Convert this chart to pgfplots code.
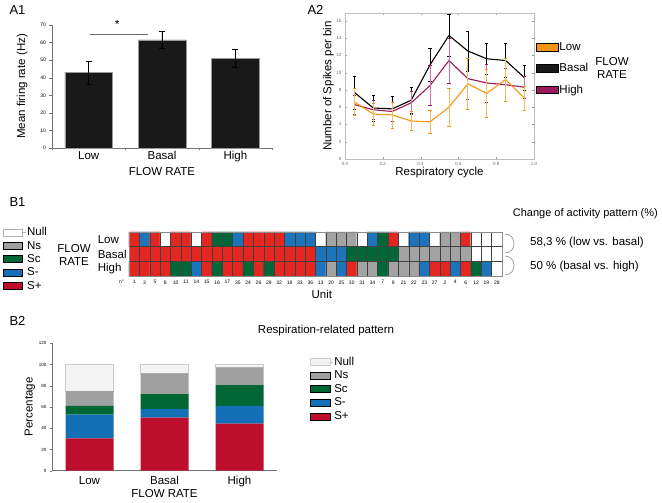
\documentclass[border=0pt]{standalone}
\usepackage{pgfplots}
\pgfplotsset{compat=1.18}
\usepackage{fontspec}
\setmainfont{Liberation Sans}
\pgfkeys{/pgf/number format/assume math mode=true}
\definecolor{bSp}{RGB}{190,14,45}
\definecolor{bSm}{RGB}{20,112,182}
\definecolor{bSc}{RGB}{0,102,51}
\definecolor{bNs}{RGB}{160,160,160}
\definecolor{bNull}{RGB}{243,243,243}
\definecolor{cOrange}{RGB}{243,150,20}
\definecolor{cMag}{RGB}{155,25,95}
\definecolor{cOrangeL}{RGB}{248,185,90}
\definecolor{cMagL}{RGB}{215,110,165}
\newcommand{\mf}{\fontsize{11.5}{13.8}\selectfont}
\newcommand{\tf}{\fontsize{5}{6}\selectfont}
\pgfplotsset{
  legA/.style={legend image code/.code={\fill[##1] (0pt,-3.8pt) rectangle (22pt,3.8pt);}},
  legB/.style={legend image code/.code={\path (0pt,0pt) -- (23pt,0pt);\draw[##1] (0pt,-3.5pt) rectangle (19pt,3.5pt);}},
  legC/.style={legend image code/.code={\path (0pt,0pt) -- (23pt,0pt);\draw[##1] (0pt,-3.5pt) rectangle (20pt,3.5pt);}},
}
\begin{document}
\begin{tikzpicture}[x=1pt,y=1pt]
\path[use as bounding box] (0pt,0pt) rectangle (662pt,503pt);
% panel labels
\node[anchor=west,font=\fontsize{13}{15}\selectfont] at (6pt,493pt) {A1};
\node[anchor=west,font=\fontsize{13}{15}\selectfont] at (304pt,493pt) {A2};
\node[anchor=west,font=\fontsize{13}{15}\selectfont] at (6pt,301pt) {B1};
\node[anchor=west,font=\fontsize{13}{15}\selectfont] at (6pt,182pt) {B2};

% ---------- A1 ----------
\begin{axis}[at={(52pt,355pt)}, anchor=south west, scale only axis, width=220pt, height=123pt,
  ybar, bar width=0.65, clip=false,
  axis lines=left, axis line style={-, black!55, line width=0.6pt},
  xmin=-0.5, xmax=2.5, ymin=0, ymax=70,
  ytick={0,10,...,70},
  xtick={-0.5,0.5,1.5,2.5}, xticklabels={},
  extra x ticks={0,1,2}, extra x tick labels={Low,Basal,High},
  extra x tick style={major tick length=0pt, tick label style={font=\mf}},
  tick align=outside, major tick length=2.5pt, tick style={black!55},
  yticklabel style={font=\tf},
  ylabel={Mean firing rate (Hz)}, ylabel style={font=\mf, at={(axis description cs:-0.136,0.5)}, anchor=center},
  xlabel={FLOW RATE}, xlabel style={font=\mf, at={(axis description cs:0.5,-0.19)}, anchor=center},
]
\addplot[fill=black!90, draw=black!40,
  error bars/.cd, y dir=both, y explicit,
  error bar style={black, line width=0.6pt},
  error mark options={rotate=90, mark size=3pt, black, line width=0.6pt}]
  coordinates {(0,43) +- (0,6.5) (1,61.5) +- (0,5) (2,51) +- (0,5)};
\draw[black!60, line width=0.7pt] (axis cs:0.02,64.8) -- (axis cs:0.81,64.8);
\node[font=\fontsize{12}{14}\selectfont] at (axis cs:0.39,70.5) {*};
\end{axis}

% ---------- A2 ----------
\begin{axis}[at={(345pt,344pt)}, anchor=south west, scale only axis, width=189pt, height=146pt,
  xmin=0, xmax=1, ymin=0, ymax=16.9,
  xtick={0,0.2,...,1}, ytick={0,2,...,16},
  xticklabel style={/pgf/number format/.cd, fixed, fixed zerofill, precision=1},
  axis line style={black!25}, tick style={black!40}, tick align=inside, major tick length=2pt,
  tick label style={font=\fontsize{4.5}{5}\selectfont, text=black!60},
  xlabel={Respiratory cycle}, xlabel style={font=\mf, at={(axis description cs:0.5,-0.092)}, anchor=center},
  ylabel={Number of Spikes per bin}, ylabel style={font=\mf, at={(axis description cs:-0.088,0.5)}, anchor=center},
  legA,
  legend style={at={(axis description cs:1.01,0.805)}, anchor=north west, draw=none, fill=none,
    inner sep=0pt, row sep=9.5pt, nodes={inner sep=1pt}, font=\mf},
  legend cell align=left,
]
\addplot[black, line width=1.1pt, forget plot,
  error bars/.cd, y dir=both, y explicit,
  error bar style={black, line width=0.7pt},
  error mark options={rotate=90, mark size=1.6pt, black, line width=0.6pt}]
  coordinates {(0.05,7.7) +- (0,1.9) (0.15,5.9) +- (0,1.5) (0.25,5.8) +- (0,1.4) (0.35,6.8) +- (0,1.5)
  (0.45,10.9) +- (0,1.9) (0.55,14.3) +- (0,2.4) (0.65,12.5) +- (0,2.3) (0.75,11.6) +- (0,1.8)
  (0.85,11.4) +- (0,2.0) (0.95,9.4) +- (0,1.5)};
\addplot[cMag, line width=1.1pt, forget plot,
  error bars/.cd, y dir=both, y explicit,
  error bar style={cMagL, line width=0.8pt},
  error mark options={rotate=90, mark size=1.6pt, cMag, line width=0.6pt}]
  coordinates {(0.05,6.3) +- (0,1.1) (0.15,5.7) +- (0,1.1) (0.25,5.5) +- (0,1.1) (0.35,6.5) +- (0,1.3)
  (0.45,8.5) +- (0,2.3) (0.55,11.4) +- (0,2.6) (0.65,9.3) +- (0,2.4) (0.75,8.8) +- (0,2.2)
  (0.85,8.6) +- (0,1.9) (0.95,8.3) +- (0,1.3)};
\addplot[cOrange, line width=1.1pt, forget plot,
  error bars/.cd, y dir=both, y explicit,
  error bar style={cOrangeL, line width=0.8pt},
  error mark options={rotate=90, mark size=1.6pt, cOrange, line width=0.6pt}]
  coordinates {(0.05,6.6) +- (0,1.6) (0.15,5.2) +- (0,1.3) (0.25,5.1) +- (0,1.5) (0.35,4.4) +- (0,1.1)
  (0.45,4.3) +- (0,1.3) (0.55,6.0) +- (0,2.2) (0.65,8.7) +- (0,3.0) (0.75,7.6) +- (0,2.8)
  (0.85,9.2) +- (0,2.5) (0.95,7.0) +- (0,1.4)};
\addlegendimage{fill=cOrange}\addlegendentry{Low}
\addlegendimage{fill=black!90}\addlegendentry{Basal}
\addlegendimage{fill=cMag}\addlegendentry{High}
\end{axis}
\node[font=\mf, align=center, inner sep=0pt] at (612pt,435pt) {FLOW\\RATE};

% ---------- B1 ----------
\begin{axis}[at={(129pt,227pt)}, anchor=south west, scale only axis, width=373pt, height=44pt,
  xmin=-0.5, xmax=35.5, ymin=-0.5, ymax=2.5, enlargelimits=false, axis on top,
  xtick={0,...,35},
  xticklabels={1,3,5,8,10,11,14,15,16,17,35,24,26,29,32,18,33,36,13,20,25,30,31,34,7,9,21,22,23,27,2,4,6,12,19,28},
  xticklabel style={font=\tf, yshift=-1pt},
  ytick={0,1,2}, yticklabels={High,Basal,Low},
  yticklabel style={font=\mf, inner sep=0pt, text width=31pt, align=left},
  minor xtick={-0.5,0.5,...,35.5}, minor ytick={-0.5,0.5,1.5,2.5},
  grid=minor, minor grid style={black!75, line width=0.35pt},
  major tick length=0pt, minor tick length=0pt,
  axis line style={black!45},
  colormap={classes}{rgb255=(255,255,255) rgb255=(163,163,163) rgb255=(0,104,56) rgb255=(28,117,188) rgb255=(228,38,33)},
  point meta min=0, point meta max=4,
  xlabel={Unit}, xlabel style={font=\mf, at={(axis description cs:0.517,-0.41)}, anchor=center},
  legB,
  legend style={at={(axis description cs:-0.338,1.12)}, anchor=north west, draw=none, fill=none,
    inner sep=0pt, row sep=2.6pt, nodes={inner sep=0.6pt}, font=\mf},
  legend cell align=left,
]
\addplot[matrix plot*, mesh/cols=36, point meta=explicit, forget plot] coordinates {
(0,0)[4] (1,0)[4] (2,0)[4] (3,0)[4] (4,0)[2] (5,0)[2] (6,0)[3] (7,0)[4] (8,0)[2] (9,0)[4] (10,0)[4] (11,0)[2] (12,0)[4] (13,0)[2] (14,0)[4] (15,0)[4] (16,0)[4] (17,0)[4] (18,0)[3] (19,0)[1] (20,0)[3] (21,0)[4] (22,0)[1] (23,0)[1] (24,0)[2] (25,0)[1] (26,0)[1] (27,0)[1] (28,0)[3] (29,0)[4] (30,0)[4] (31,0)[3] (32,0)[4] (33,0)[2] (34,0)[3] (35,0)[0]
(0,1)[4] (1,1)[4] (2,1)[4] (3,1)[4] (4,1)[4] (5,1)[4] (6,1)[4] (7,1)[4] (8,1)[4] (9,1)[4] (10,1)[4] (11,1)[4] (12,1)[4] (13,1)[4] (14,1)[4] (15,1)[4] (16,1)[4] (17,1)[4] (18,1)[3] (19,1)[3] (20,1)[3] (21,1)[2] (22,1)[2] (23,1)[2] (24,1)[2] (25,1)[2] (26,1)[1] (27,1)[1] (28,1)[1] (29,1)[1] (30,1)[1] (31,1)[1] (32,1)[1] (33,1)[0] (34,1)[0] (35,1)[0]
(0,2)[4] (1,2)[3] (2,2)[4] (3,2)[0] (4,2)[4] (5,2)[4] (6,2)[0] (7,2)[4] (8,2)[2] (9,2)[2] (10,2)[3] (11,2)[4] (12,2)[4] (13,2)[4] (14,2)[4] (15,2)[3] (16,2)[3] (17,2)[3] (18,2)[0] (19,2)[1] (20,2)[1] (21,2)[1] (22,2)[0] (23,2)[3] (24,2)[2] (25,2)[4] (26,2)[0] (27,2)[3] (28,2)[3] (29,2)[0] (30,2)[1] (31,2)[1] (32,2)[4] (33,2)[0] (34,2)[0] (35,2)[0]
};
\addlegendimage{fill=white, draw=black!30}\addlegendentry{Null}
\addlegendimage{fill=bNs, draw=none}\addlegendentry{Ns}
\addlegendimage{fill=bSc, draw=none}\addlegendentry{Sc}
\addlegendimage{fill=bSm, draw=none}\addlegendentry{S-}
\addlegendimage{fill=bSp, draw=none}\addlegendentry{S+}
\end{axis}
\node[font=\mf, align=center, inner sep=0pt] at (74pt,248pt) {FLOW\\RATE};
\node[font=\tf] at (121.5pt,221pt) {n\textdegree};
\node[font=\fontsize{11}{13}\selectfont, anchor=east, inner sep=0pt] at (658pt,289pt) {Change of activity pattern (\%)};
\draw[black!45, line width=0.6pt] (505pt,269pt) .. controls (517pt,269pt) and (517pt,250pt) .. (505pt,250pt);
\draw[black!45, line width=0.6pt] (505pt,247pt) .. controls (517pt,247pt) and (517pt,228pt) .. (505pt,228pt);
\node[font=\mf, anchor=west, inner sep=0pt] at (530pt,260pt) {58,3 \% (low vs. basal)};
\node[font=\mf, anchor=west, inner sep=0pt] at (530pt,236pt) {50 \% (basal vs. high)};

% ---------- B2 ----------
\begin{axis}[at={(52pt,32.3pt)}, anchor=south west, scale only axis, width=225pt, height=127.4pt,
  ybar stacked, bar width=0.64,
  xmin=-0.5, xmax=2.5, ymin=0, ymax=120,
  axis lines=left, axis line style={-, black!55, line width=0.6pt},
  xtick={0,1,2}, xticklabels={Low,Basal,High}, xticklabel style={font=\mf},
  x tick style={draw=none},
  ytick={0,20,...,120}, yticklabel style={font=\fontsize{4.5}{5}\selectfont},
  tick align=outside, major tick length=2pt, tick style={black!55},
  ylabel={Percentage}, ylabel style={font=\mf, at={(axis description cs:-0.098,0.5)}, anchor=center},
  xlabel={FLOW RATE}, xlabel style={font=\mf, at={(axis description cs:0.5,-0.183)}, anchor=center},
  title={Respiration-related pattern}, title style={font=\mf, at={(axis description cs:1.218,1.05)}, anchor=center},
  reverse legend,
  legend style={at={(axis description cs:1.147,0.9)}, anchor=north west, draw=none, fill=none,
    inner sep=0pt, row sep=2.9pt, nodes={inner sep=0.6pt}, font=\mf},
  legend cell align=left,
]
\addplot[fill=bSp, draw=none, legC] coordinates {(0,30.56) (1,50) (2,44.44)}; \addlegendentry{S+}
\addplot[fill=bSm, draw=none, legC] coordinates {(0,22.22) (1,8.33) (2,16.67)}; \addlegendentry{S-}
\addplot[fill=bSc, draw=none, legC] coordinates {(0,8.33) (1,13.89) (2,19.44)}; \addlegendentry{Sc}
\addplot[fill=bNs, draw=none, legC] coordinates {(0,13.89) (1,19.44) (2,16.67)}; \addlegendentry{Ns}
\addplot[fill=bNull, draw=black!20, legC] coordinates {(0,25) (1,8.33) (2,2.78)}; \addlegendentry{Null}
\end{axis}
\end{tikzpicture}
\end{document}
